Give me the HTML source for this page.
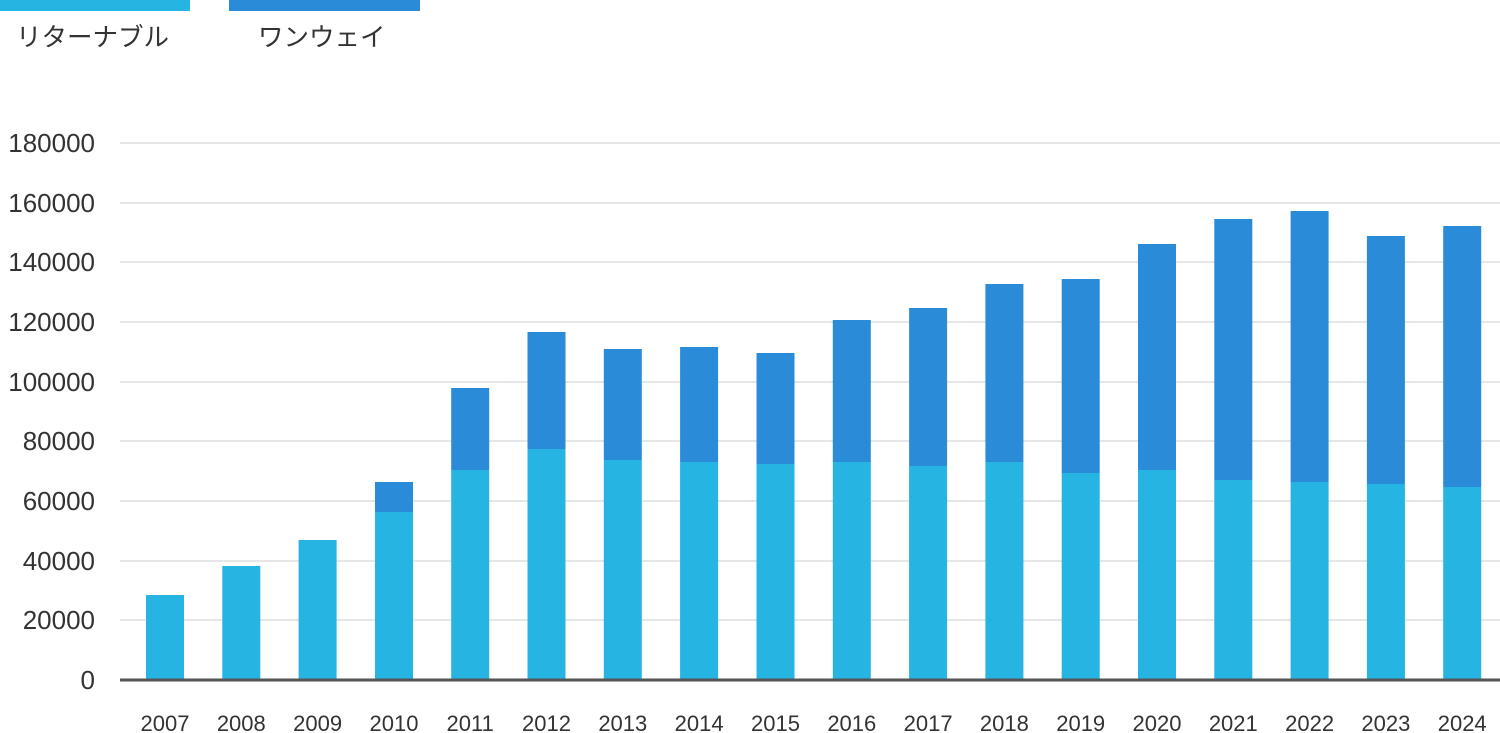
<!DOCTYPE html>
<html><head><meta charset="utf-8"><style>
body{margin:0;background:#fff;}
svg{display:block;font-family:"Liberation Sans","Noto Sans CJK JP",sans-serif;}
</style></head><body>
<svg width="1500" height="733" viewBox="0 0 1500 733" xmlns="http://www.w3.org/2000/svg">
<rect x="0" y="0" width="190" height="11" fill="#26b4e2"/>
<rect x="229" y="0" width="191" height="11" fill="#2a8bd8"/>
<text x="16" y="46" font-size="25.5" fill="#333">リターナブル</text>
<text x="258" y="46" font-size="25.5" fill="#333">ワンウェイ</text>
<g stroke="#dddddd" stroke-width="1.5">
<line x1="120" x2="1500" y1="143" y2="143"/><line x1="120" x2="1500" y1="203" y2="203"/>
<line x1="120" x2="1500" y1="262" y2="262"/><line x1="120" x2="1500" y1="322" y2="322"/>
<line x1="120" x2="1500" y1="382" y2="382"/><line x1="120" x2="1500" y1="441" y2="441"/>
<line x1="120" x2="1500" y1="501" y2="501"/><line x1="120" x2="1500" y1="561" y2="561"/>
<line x1="120" x2="1500" y1="620" y2="620"/>
</g>
<g font-size="26" fill="#333" text-anchor="end">
<text x="95" y="152">180000</text><text x="95" y="212">160000</text><text x="95" y="271">140000</text>
<text x="95" y="331">120000</text><text x="95" y="391">100000</text><text x="95" y="450">80000</text>
<text x="95" y="510">60000</text><text x="95" y="570">40000</text><text x="95" y="629">20000</text>
<text x="95" y="689">0</text>
</g>
<g fill="#2a8bd8">
<rect x="375" y="482" width="38" height="30"/>
<rect x="451.2" y="388" width="38" height="82"/>
<rect x="527.5" y="332" width="38" height="117"/>
<rect x="603.8" y="349" width="38" height="111"/>
<rect x="680.1" y="347" width="38" height="115"/>
<rect x="756.5" y="353" width="38" height="111"/>
<rect x="832.8" y="320" width="38" height="142"/>
<rect x="909.1" y="308" width="38" height="158"/>
<rect x="985.4" y="284" width="38" height="178"/>
<rect x="1061.7" y="279" width="38" height="194"/>
<rect x="1138" y="244" width="38" height="226"/>
<rect x="1214.3" y="219" width="38" height="261"/>
<rect x="1290.6" y="211" width="38" height="271"/>
<rect x="1366.9" y="236" width="38" height="248"/>
<rect x="1443.2" y="226" width="38" height="261"/>
</g>
<g fill="#26b4e2">
<rect x="146" y="595" width="38" height="85"/>
<rect x="222.3" y="566" width="38" height="114"/>
<rect x="298.6" y="540" width="38" height="140"/>
<rect x="375" y="512" width="38" height="168"/>
<rect x="451.2" y="470" width="38" height="210"/>
<rect x="527.5" y="449" width="38" height="231"/>
<rect x="603.8" y="460" width="38" height="220"/>
<rect x="680.1" y="462" width="38" height="218"/>
<rect x="756.5" y="464" width="38" height="216"/>
<rect x="832.8" y="462" width="38" height="218"/>
<rect x="909.1" y="466" width="38" height="214"/>
<rect x="985.4" y="462" width="38" height="218"/>
<rect x="1061.7" y="473" width="38" height="207"/>
<rect x="1138" y="470" width="38" height="210"/>
<rect x="1214.3" y="480" width="38" height="200"/>
<rect x="1290.6" y="482" width="38" height="198"/>
<rect x="1366.9" y="484" width="38" height="196"/>
<rect x="1443.2" y="487" width="38" height="193"/>
</g>
<line x1="120" x2="1500" y1="680" y2="680" stroke="#555" stroke-width="3"/>
<g font-size="22" fill="#333" text-anchor="middle">
<text x="165" y="731">2007</text><text x="241.3" y="731">2008</text><text x="317.6" y="731">2009</text>
<text x="394" y="731">2010</text><text x="470.2" y="731">2011</text><text x="546.5" y="731">2012</text>
<text x="622.8" y="731">2013</text><text x="699.1" y="731">2014</text><text x="775.5" y="731">2015</text>
<text x="851.8" y="731">2016</text><text x="928.1" y="731">2017</text><text x="1004.4" y="731">2018</text>
<text x="1080.7" y="731">2019</text><text x="1157" y="731">2020</text><text x="1233.3" y="731">2021</text>
<text x="1309.6" y="731">2022</text><text x="1385.9" y="731">2023</text><text x="1462.2" y="731">2024</text>
</g>
</svg>
</body></html>
